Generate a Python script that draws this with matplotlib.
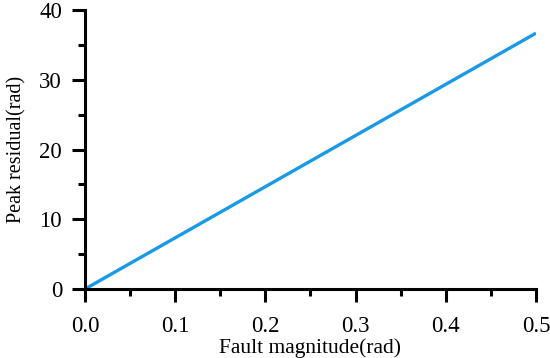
import numpy as np
import matplotlib.pyplot as plt
from matplotlib.ticker import MultipleLocator

plt.rcParams['font.family'] = ['Liberation Serif', 'DejaVu Serif']

# data
fault_mag = [0.0, 0.5]
peak_res = [0.0, 36.7]

fig = plt.figure(figsize=(5.5, 3.58), dpi=100)
ax = fig.add_axes([0.1545, 0.1927, 0.82, 0.779])
ax.plot(fault_mag, peak_res, color='#1a9ae6', lw=2.4, solid_capstyle='butt')

ax.set_xlim(0, 0.5)
ax.set_ylim(0, 40)
ax.xaxis.set_major_locator(MultipleLocator(0.1))
ax.xaxis.set_minor_locator(MultipleLocator(0.05))
ax.yaxis.set_major_locator(MultipleLocator(10))
ax.yaxis.set_minor_locator(MultipleLocator(5))
ax.xaxis.set_major_formatter(plt.FuncFormatter(lambda v, p: '%.1f' % v))

for s in ['top', 'right']:
    ax.spines[s].set_visible(False)
for s in ['left', 'bottom']:
    ax.spines[s].set_linewidth(2.2)
ax.tick_params(which='major', direction='out', length=9.5, width=2.2, labelsize=16.5)
ax.tick_params(which='minor', direction='out', length=5, width=2.2)
ax.tick_params(axis='x', which='major', pad=10)
ax.tick_params(axis='y', which='major', pad=7)

ax.set_xlabel('Fault magnitude(rad)', fontsize=15.5, labelpad=1)
ax.set_ylabel('Peak residual(rad)', fontsize=14.5, labelpad=9)

fig.savefig('out.png', dpi=100)
